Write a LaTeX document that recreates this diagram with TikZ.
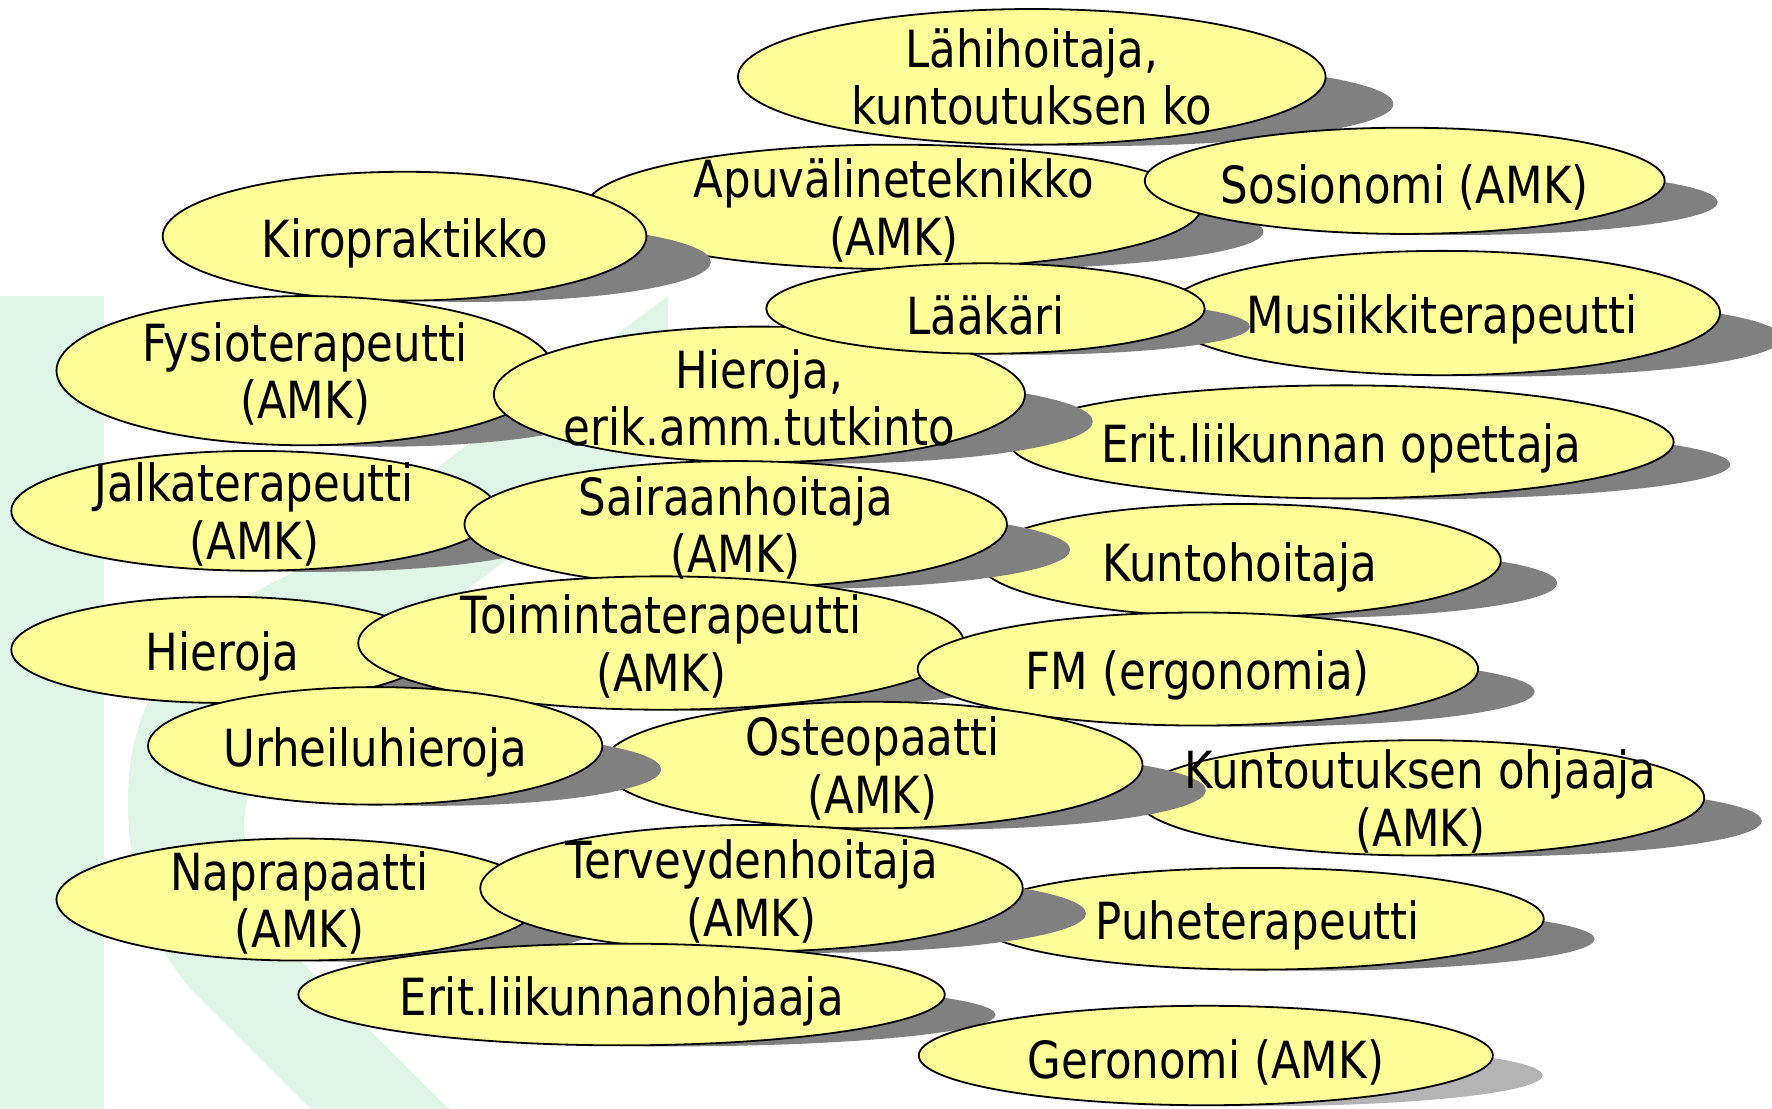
\documentclass[tikz,border=0pt]{standalone}
\usepackage{fontspec}
\setmainfont[FakeStretch=0.85]{DejaVu Sans}
\usetikzlibrary{shapes.geometric}
\definecolor{yel}{RGB}{255,255,153}
\definecolor{shd}{RGB}{128,128,128}
\definecolor{shdl}{RGB}{180,180,180}
\definecolor{kgreen}{RGB}{222,245,231}
\tikzset{
  bub/.style 2 args={ellipse, draw=black, line width=0.9pt, fill=yel, inner sep=0pt, outer sep=0pt,
    minimum width={#1*1.1301pt}, minimum height={#2*1.1301pt}},
  txt/.style={align=center, inner sep=0pt, yshift=-1.7pt, font=\fontsize{25.6}{28.8}\selectfont},
  txtone/.style={txt, yshift=-1.7pt},
}
% #1 shadow colour, #2 name, #3 cx, #4 cy, #5 rx, #6 ry  (display px)
\newcommand\mybub[6][shd]{%
  \fill[#1] (#3+#6,#4+0.4*#6) ellipse [x radius={#5*0.56505pt}, y radius={0.62*#6*0.56505pt}];
  \node[bub={#5}{#6}] (#2) at (#3,#4) {};
}
\begin{document}
\begin{tikzpicture}[x=0.56505pt, y=-0.56505pt]
\useasboundingbox (0,0) rectangle (1568,981);
\fill[white] (0,0) rectangle (1568,981);
% background K
\fill[kgreen] (0,262) rectangle (92,981);
\begin{scope}[scale=0.8849]
\fill[kgreen] (668,296) -- (668,440) -- (330,691) .. controls (255,747) and (240,800) .. (245,840)
  .. controls (250,900) and (270,930) .. (300,960) -- (449,1109) -- (311,1109) -- (189,987)
  .. controls (150,940) and (128,880) .. (128,800) .. controls (128,700) and (180,620) .. (300,570) -- cycle;
\end{scope}
% bubbles, back to front
\mybub{apu}{791}{183}{272}{55}
\mybub{lahi}{913}{68}{260}{60}
\mybub{sos}{1243}{160}{230}{47}
\mybub{kiro}{358}{209}{214}{57}
\mybub{mus}{1276}{277}{246}{55}
\mybub{fys}{270}{328}{220}{66}
\mybub{eope}{1187}{391}{294}{50}
\mybub{hier}{672}{349}{235}{60}
\mybub{laak}{872}{273}{194}{40}
\mybub{jalk}{225}{452}{215}{53}
\mybub{kuho}{1097}{496}{231}{50}
\mybub{sair}{651}{464}{240}{56}
\mybub{hie}{197}{575}{187}{47}
\mybub{toim}{585}{569}{268}{59}
\mybub{fm}{1060}{592}{248}{50}
\mybub{kuoh}{1257}{706}{251}{51}
\mybub{oste}{772}{677}{239}{56}
\mybub{urh}{332}{660}{201}{52}
\mybub{napr}{265}{796}{215}{54}
\mybub{puhe}{1113}{813}{253}{45}
\mybub{terv}{665}{786}{240}{56}
\mybub{eohj}{550}{880}{286}{45}
\mybub[shdl]{ger}{1067}{934}{254}{44}
% texts
\node[txt, yshift=1.7pt] (tlahi) at (lahi) {Lähihoitaja,\\kuntoutuksen ko};
\node[txt] (tapu) at (apu) {Apuvälineteknikko\\(AMK)};
\node[txtone] (tsos) at (sos) {Sosionomi (AMK)};
\node[txtone] (tkiro) at (kiro) {Kiropraktikko};
\node[txtone] (tlaak) at (laak) {Lääkäri};
\node[txtone] (tmus) at (mus) {Musiikkiterapeutti};
\node[txt] (tfys) at (fys) {Fysioterapeutti\\(AMK)};
\node[txt] (thier) at (hier) {Hieroja,\\erik.amm.tutkinto};
\node[txtone] (teope) at (eope) {Erit.liikunnan opettaja};
\node[txt] (tjalk) at (jalk) {Jalkaterapeutti\\(AMK)};
\node[txt] (tsair) at (sair) {Sairaanhoitaja\\(AMK)};
\node[txtone] (tkuho) at (kuho) {Kuntohoitaja};
\node[txtone] (thie) at (hie) {Hieroja};
\node[txt] (ttoim) at (toim) {Toimintaterapeutti\\(AMK)};
\node[txtone] (tfm) at (fm) {FM (ergonomia)};
\node[txtone] (turh) at (urh) {Urheiluhieroja};
\node[txt] (toste) at (oste) {Osteopaatti\\(AMK)};
\node[txt] (tkuoh) at (kuoh) {Kuntoutuksen ohjaaja\\(AMK)};
\node[txt] (tnapr) at (napr) {Naprapaatti\\(AMK)};
\node[txt] (tterv) at (terv) {Terveydenhoitaja\\(AMK)};
\node[txtone] (tpuhe) at (puhe) {Puheterapeutti};
\node[txtone] (teohj) at (eohj) {Erit.liikunnanohjaaja};
\node[txtone] (tger) at (ger) {Geronomi (AMK)};
\end{tikzpicture}
\end{document}
